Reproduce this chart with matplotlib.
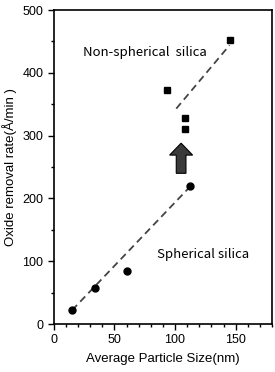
import matplotlib
matplotlib.use("Agg")
import matplotlib.pyplot as plt
from matplotlib.ticker import MultipleLocator
from matplotlib.patches import FancyArrow

plt.rcParams['font.family'] = ['Liberation Sans', 'DejaVu Sans']

sph_x = [15, 34, 60, 112]
sph_y = [22, 58, 84, 219]
nsph_x = [93, 108, 108, 145]
nsph_y = [372, 328, 311, 452]
sph_fit_x = [15, 113]
sph_fit_y = [22, 220]
nsph_fit_x = [101, 145]
nsph_fit_y = [343, 444]
xticks = [0, 50, 100, 150]
yticks = [0, 100, 200, 300, 400, 500]

fig = plt.figure(figsize=(2.75, 3.72), dpi=100)
ax = fig.add_axes([0.196, 0.129, 0.793, 0.844])

ax.plot(sph_fit_x, sph_fit_y, ls=(0, (4, 2.5)), color='#444444', lw=1.3)
ax.plot(nsph_fit_x, nsph_fit_y, ls=(0, (4, 2.5)), color='#444444', lw=1.3)
ax.plot(sph_x, sph_y, 'o', color='black', ms=5)
ax.plot(nsph_x, nsph_y, 's', color='black', ms=4.5)

arrow = FancyArrow(105, 240, 0, 48, width=8, head_width=19, head_length=19,
                   length_includes_head=True, facecolor='#3a3a3a', edgecolor='black', lw=0.8)
ax.add_patch(arrow)

ax.text(75, 433, 'Non-spherical  silica', ha='center', va='center', fontsize=9.5,
        family=['Noto Sans CJK KR', 'DejaVu Sans'])
ax.text(123, 110, 'Spherical silica', ha='center', va='center', fontsize=9.5,
        family=['Noto Sans CJK KR', 'DejaVu Sans'])

ax.set_xlim(0, 180)
ax.set_ylim(0, 500)
ax.set_xticks(xticks)
ax.set_yticks(yticks)
ax.xaxis.set_minor_locator(MultipleLocator(10))
ax.yaxis.set_minor_locator(MultipleLocator(50))
ax.tick_params(axis='both', which='major', labelsize=9, length=4, width=1)
ax.tick_params(axis='both', which='minor', length=2.5, width=1)
for s in ax.spines.values():
    s.set_linewidth(1.2)

ax.set_xlabel('Average Particle Size(nm)', fontsize=9.5, labelpad=5)
ax.set_ylabel('Oxide removal rate(Å/min )', fontsize=9.5, labelpad=4)

fig.savefig('out.png', dpi=100)
